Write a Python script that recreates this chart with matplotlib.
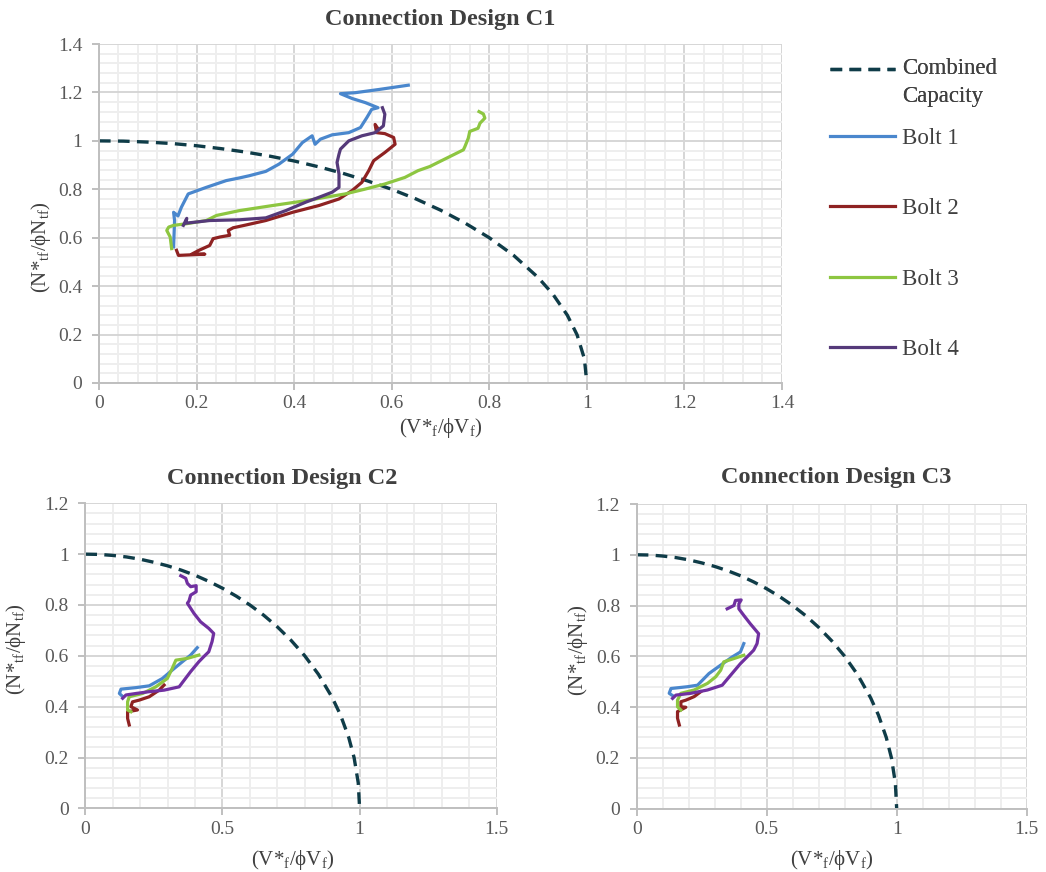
import numpy as np
import matplotlib
matplotlib.use('Agg')
import matplotlib.pyplot as plt
from matplotlib.ticker import MultipleLocator, FuncFormatter
from matplotlib.legend_handler import HandlerLine2D

plt.rcParams['font.family'] = ['Liberation Serif', 'DejaVu Serif']
plt.rcParams['mathtext.fontset'] = 'custom'
plt.rcParams['mathtext.rm'] = 'Liberation Serif'
plt.rcParams['mathtext.it'] = 'Liberation Serif:italic'

# combined capacity (interaction curve)
cap_x = [0, .05, .1, .15, .2, .25, .3, .35, .4, .45, .5, .55, .6, .65, .7, .75,
         .8, .85, .9, .93, .96, .98, .995, 1.0]
cap_y = [1, .999, .995, .989, .980, .968, .954, .937, .917, .893, .866, .835,
         .800, .760, .714, .661, .600, .527, .436, .368, .280, .199, .100, 0]

# Connection design C1
c1_b1_x = [0.153, 0.155, 0.153, 0.162, 0.169, 0.183, 0.220, 0.261, 0.288, 0.308, 0.342, 0.369, 0.397,
           0.417, 0.437, 0.443, 0.454, 0.478, 0.512, 0.536, 0.549, 0.559, 0.572, 0.546, 0.519, 0.495,
           0.525, 0.573, 0.634]
c1_b1_y = [0.562, 0.671, 0.705, 0.690, 0.726, 0.781, 0.808, 0.836, 0.847, 0.856, 0.874, 0.904, 0.945,
           0.993, 1.021, 0.986, 1.007, 1.025, 1.034, 1.055, 1.096, 1.130, 1.137, 1.158, 1.175, 1.195,
           1.199, 1.212, 1.230]
c1_b2_x = [0.159, 0.163, 0.217, 0.190, 0.205, 0.227, 0.234, 0.248, 0.268, 0.265, 0.275, 0.300, 0.342,
           0.397, 0.451, 0.492, 0.519, 0.539, 0.553, 0.563, 0.586, 0.607, 0.604, 0.586, 0.569, 0.566,
           0.572]
c1_b2_y = [0.548, 0.527, 0.532, 0.532, 0.548, 0.568, 0.596, 0.603, 0.610, 0.630, 0.641, 0.652, 0.671,
           0.705, 0.733, 0.760, 0.795, 0.829, 0.877, 0.918, 0.952, 0.986, 1.014, 1.030, 1.034, 1.068,
           1.050]
c1_b3_x = [0.149, 0.146, 0.139, 0.143, 0.153, 0.180, 0.220, 0.241, 0.288, 0.356, 0.424, 0.464, 0.505,
           0.546, 0.586, 0.627, 0.654, 0.678, 0.719, 0.747, 0.750, 0.757, 0.760, 0.777, 0.781, 0.791,
           0.788, 0.779]
c1_b3_y = [0.555, 0.603, 0.630, 0.644, 0.651, 0.658, 0.671, 0.692, 0.712, 0.733, 0.753, 0.767, 0.781,
           0.801, 0.822, 0.849, 0.877, 0.894, 0.935, 0.963, 0.976, 1.011, 1.039, 1.052, 1.073, 1.094,
           1.111, 1.121]
c1_b4_x = [0.173, 0.180, 0.178, 0.227, 0.288, 0.342, 0.383, 0.424, 0.451, 0.478, 0.492, 0.492, 0.488,
           0.492, 0.495, 0.512, 0.539, 0.566, 0.583, 0.586, 0.581]
c1_b4_y = [0.651, 0.680, 0.660, 0.671, 0.674, 0.682, 0.712, 0.747, 0.767, 0.788, 0.808, 0.863, 0.911,
           0.945, 0.966, 1.000, 1.021, 1.034, 1.062, 1.110, 1.137]

# Connection design C2
c2_b1_x = [0.408, 0.384, 0.354, 0.317, 0.281, 0.233, 0.185, 0.130, 0.124, 0.136]
c2_b1_y = [0.632, 0.603, 0.577, 0.544, 0.511, 0.482, 0.475, 0.469, 0.452, 0.440]
c2_b2_x = [0.287, 0.269, 0.233, 0.197, 0.172, 0.166, 0.190, 0.154, 0.154, 0.160]
c2_b2_y = [0.485, 0.465, 0.439, 0.426, 0.419, 0.400, 0.387, 0.380, 0.354, 0.328]
c2_b3_x = [0.414, 0.372, 0.330, 0.317, 0.299, 0.257, 0.209, 0.160, 0.154, 0.154, 0.166]
c2_b3_y = [0.603, 0.590, 0.583, 0.551, 0.511, 0.478, 0.452, 0.439, 0.419, 0.387, 0.380]
c2_b4_x = [0.348, 0.366, 0.372, 0.384, 0.404, 0.404, 0.384, 0.378, 0.372, 0.396, 0.420, 0.450, 0.468,
           0.462, 0.450, 0.432, 0.414, 0.384, 0.342, 0.287, 0.233, 0.185, 0.148, 0.136]
c2_b4_y = [0.915, 0.905, 0.885, 0.872, 0.876, 0.852, 0.839, 0.816, 0.807, 0.767, 0.734, 0.708, 0.688,
           0.656, 0.616, 0.597, 0.577, 0.538, 0.478, 0.465, 0.459, 0.452, 0.446, 0.433]

# Connection design C3
c3_b1_x = [0.412, 0.399, 0.367, 0.323, 0.278, 0.234, 0.195, 0.132, 0.125, 0.138]
c3_b1_y = [0.650, 0.617, 0.597, 0.565, 0.532, 0.486, 0.480, 0.473, 0.454, 0.445]
c3_b2_x = [0.246, 0.221, 0.189, 0.170, 0.170, 0.189, 0.157, 0.157, 0.164]
c3_b2_y = [0.460, 0.441, 0.427, 0.421, 0.401, 0.399, 0.382, 0.356, 0.329]
c3_b3_x = [0.412, 0.374, 0.335, 0.323, 0.304, 0.272, 0.221, 0.170, 0.157, 0.157, 0.170]
c3_b3_y = [0.604, 0.591, 0.578, 0.545, 0.519, 0.493, 0.467, 0.454, 0.427, 0.401, 0.388]
c3_b4_x = [0.348, 0.374, 0.380, 0.402, 0.393, 0.393, 0.412, 0.437, 0.469, 0.463, 0.450, 0.431, 0.399,
           0.361, 0.329, 0.272, 0.208, 0.151, 0.138]
c3_b4_y = [0.787, 0.800, 0.820, 0.822, 0.807, 0.787, 0.761, 0.728, 0.689, 0.650, 0.624, 0.604, 0.571,
           0.525, 0.486, 0.467, 0.454, 0.447, 0.434]

labels = ['Combined\nCapacity', 'Bolt 1', 'Bolt 2', 'Bolt 3', 'Bolt 4']
cap_color = '#0f3c48'
blue = '#4a87cd'
red = '#8e2222'
green = '#8dc641'
purple_top = '#553a7a'
purple_low = '#7030a0'

xlab = r'(V*$_\mathrm{f}$/$\mathrm{\phi}$V$_\mathrm{f}$)'
ylab = r'(N*$_\mathrm{tf}$/$\mathrm{\phi}$N$_\mathrm{tf}$)'
txt_grey = '#595959'


class HandlerTop(HandlerLine2D):
    # keep the legend line level with the first line of a two-line label
    def create_artists(self, legend, orig_handle, xdescent, ydescent,
                       width, height, fontsize, trans):
        arts = super().create_artists(legend, orig_handle, xdescent, ydescent,
                                      width, height, fontsize, trans)
        for a in arts:
            a.set_ydata(np.asarray(a.get_ydata()) + 0.58 * fontsize)
        return arts


def style(ax, xmax, xmaj, xmin, ymax, ymaj, ymin):
    ax.set_xlim(0, xmax)
    ax.set_ylim(0, ymax)
    ax.xaxis.set_major_locator(MultipleLocator(xmaj))
    ax.xaxis.set_minor_locator(MultipleLocator(xmin))
    ax.yaxis.set_major_locator(MultipleLocator(ymaj))
    ax.yaxis.set_minor_locator(MultipleLocator(ymin))
    fmt = FuncFormatter(lambda v, p: f'{v:g}')
    ax.xaxis.set_major_formatter(fmt)
    ax.yaxis.set_major_formatter(fmt)
    ax.set_axisbelow(True)
    ax.grid(which='minor', color='#eeeeee', lw=1.4)
    ax.grid(which='major', color='#d6d6d6', lw=1.4)
    for s in ['top', 'right']:
        ax.spines[s].set_visible(False)
    for s in ['left', 'bottom']:
        ax.spines[s].set_color('#bfbfbf')
        ax.spines[s].set_linewidth(1.4)
    ax.tick_params(which='major', length=5, width=1.4, color='#bfbfbf',
                   labelsize=14, labelcolor=txt_grey)
    ax.tick_params(axis='y', which='major', pad=7)
    ax.tick_params(axis='x', which='major', pad=4)
    ax.tick_params(which='minor', length=0)


fig = plt.figure(figsize=(10.46, 8.72), dpi=100)

# ---- C1 ----
ax1 = fig.add_axes([0.0946, 0.5608, 0.6530, 0.3887])
style(ax1, 1.4, 0.2, 0.04, 1.4, 0.2, 0.04)
lw = 2.3
h_cap, = ax1.plot(cap_x, cap_y, color=cap_color, lw=2.4, ls=(0, (3.5, 2.2)))
h1, = ax1.plot(c1_b1_x, c1_b1_y, color=blue, lw=lw)
h2, = ax1.plot(c1_b2_x, c1_b2_y, color=red, lw=lw)
h3, = ax1.plot(c1_b3_x, c1_b3_y, color=green, lw=lw)
h4, = ax1.plot(c1_b4_x, c1_b4_y, color=purple_top, lw=lw)
ax1.set_title('Connection Design C1', fontsize=17.5, fontweight='bold',
              color='#404040', x=0.5, y=1.072, va='center', pad=0)
ax1.set_xlabel(xlab, fontsize=15, color='#404040')
ax1.set_ylabel(ylab, fontsize=15, color='#404040')
ax1.xaxis.set_label_coords(0.5, -0.097)
ax1.yaxis.set_label_coords(-0.068, 0.40)

leg1 = fig.legend([h_cap], [labels[0]], loc='upper left',
                  bbox_to_anchor=(830 / 1046, 1 - 58 / 872), frameon=False,
                  fontsize=16.5, handlelength=2.85, handletextpad=0.3,
                  borderpad=0, borderaxespad=0, labelcolor='#404040',
                  handler_map={h_cap: HandlerTop()})
for t in leg1.get_texts():
    t.set_linespacing(1.45)
fig.add_artist(leg1)
fig.legend([h1, h2, h3, h4], labels[1:], loc='upper left',
           bbox_to_anchor=(830 / 1046, 1 - 128 / 872), frameon=False,
           fontsize=16.5, handlelength=2.85, handletextpad=0.3,
           labelspacing=2.15, borderpad=0, borderaxespad=0, labelcolor='#404040')

# ---- C2 ----
ax2 = fig.add_axes([0.0816, 0.0730, 0.3933, 0.3498])
style(ax2, 1.5, 0.5, 0.1, 1.2, 0.2, 0.04)
ax2.plot(cap_x, cap_y, color=cap_color, lw=2.4, ls=(0, (3.5, 2.2)))
ax2.plot(c2_b1_x, c2_b1_y, color=blue, lw=lw)
ax2.plot(c2_b2_x, c2_b2_y, color=red, lw=lw)
ax2.plot(c2_b3_x, c2_b3_y, color=green, lw=lw)
ax2.plot(c2_b4_x, c2_b4_y, color=purple_low, lw=lw)
ax2.set_title('Connection Design C2', fontsize=17.5, fontweight='bold',
              color='#404040', x=0.478, y=1.083, va='center', pad=0)
ax2.set_xlabel(xlab, fontsize=15, color='#404040')
ax2.set_ylabel(ylab, fontsize=15, color='#404040')
ax2.xaxis.set_label_coords(0.505, -0.13)
ax2.yaxis.set_label_coords(-0.139, 0.52)

# ---- C3 ----
ax3 = fig.add_axes([0.6087, 0.0728, 0.3728, 0.3492])
style(ax3, 1.5, 0.5, 0.1, 1.2, 0.2, 0.04)
ax3.plot(cap_x, cap_y, color=cap_color, lw=2.4, ls=(0, (3.5, 2.2)))
ax3.plot(c3_b1_x, c3_b1_y, color=blue, lw=lw)
ax3.plot(c3_b2_x, c3_b2_y, color=red, lw=lw)
ax3.plot(c3_b3_x, c3_b3_y, color=green, lw=lw)
ax3.plot(c3_b4_x, c3_b4_y, color=purple_low, lw=lw)
ax3.set_title('Connection Design C3', fontsize=17.5, fontweight='bold',
              color='#404040', x=0.511, y=1.086, va='center', pad=0)
ax3.set_xlabel(xlab, fontsize=15, color='#404040')
ax3.set_ylabel(ylab, fontsize=15, color='#404040')
ax3.xaxis.set_label_coords(0.5, -0.13)
ax3.yaxis.set_label_coords(-0.12, 0.52)

fig.savefig('out.png', dpi=100)
